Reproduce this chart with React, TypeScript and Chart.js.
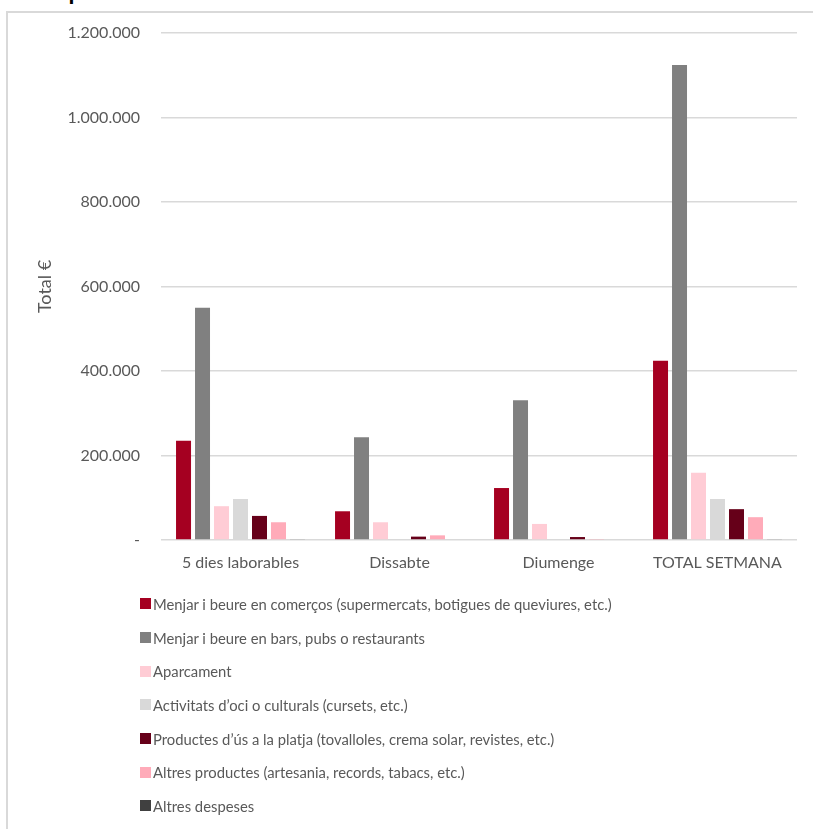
import React, { useEffect, useRef } from "react";
import { Chart, registerables } from "chart.js";

Chart.register(...registerables);

const categories = ["5 dies laborables", "Dissabte", "Diumenge", "TOTAL SETMANA"];

const seriesNames = [
  "Menjar i beure en comerços (supermercats, botigues de queviures, etc.)",
  "Menjar i beure en bars, pubs o restaurants",
  "Aparcament",
  "Activitats d’oci o culturals (cursets, etc.)",
  "Productes d’ús a la platja (tovalloles, crema solar, revistes, etc.)",
  "Altres productes (artesania, records, tabacs, etc.)",
  "Altres despeses",
];

const menjarComercos = [235000, 68000, 123000, 424000];
const menjarBars = [550000, 243000, 331000, 1124000];
const aparcament = [80000, 42000, 38000, 159000];
const activitats = [97000, 0, 0, 97000];
const productesPlatja = [57000, 8000, 7000, 73000];
const altresProductes = [42000, 11000, 1000, 54000];
const altresDespeses = [2000, 0, 0, 2000];

const seriesValues = [
  menjarComercos,
  menjarBars,
  aparcament,
  activitats,
  productesPlatja,
  altresProductes,
  altresDespeses,
];

const seriesColors = ["#A50021", "#808080", "#FFCCD5", "#D9D9D9", "#660019", "#FFABB9", "#404040"];

const yMin = 0;
const yMax = 1200000;
const yStep = 200000;
const yTitle = "Total €";
const chartTitle = "Despesa total setmanal";

const fmt = (v: number) =>
  v === 0 ? "-" : String(Math.round(v)).replace(/\B(?=(\d{3})+(?!\d))/g, ".");

const FONT = "Lato, 'Open Sans', sans-serif";
const TEXT = "#595959";

export default function App() {
  const ref = useRef<HTMLCanvasElement | null>(null);

  useEffect(() => {
    if (!ref.current) return;
    const chart = new Chart(ref.current, {
      type: "bar",
      data: {
        labels: categories,
        datasets: seriesNames.map((name, i) => ({
          label: name,
          data: seriesValues[i],
          backgroundColor: seriesColors[i],
          borderWidth: 0,
          categoryPercentage: 0.836,
          barPercentage: 0.79,
        })),
      },
      options: {
        animation: false,
        responsive: false,
        maintainAspectRatio: false,
        layout: { padding: { left: 28, right: 16, top: 33, bottom: 0 } },
        plugins: {
          legend: { display: false },
          tooltip: { enabled: false },
          title: { display: false },
        },
        scales: {
          x: {
            grid: { display: false, drawTicks: false },
            border: { display: false },
            ticks: {
              color: TEXT,
              padding: 13,
              font: { family: FONT, size: 16 },
              maxRotation: 0,
            },
            afterFit: (s: any) => {
              s.height = 50;
            },
          },
          y: {
            min: yMin,
            max: yMax,
            grid: { color: "#D9D9D9", lineWidth: 1.5, drawTicks: false },
            border: { display: false },
            ticks: {
              stepSize: yStep,
              color: TEXT,
              padding: 21,
              font: { family: FONT, size: 16 },
              callback: (v: any) => fmt(Number(v)),
            },
            title: {
              display: true,
              text: yTitle,
              color: TEXT,
              font: { family: FONT, size: 18 },
              padding: { top: 6, bottom: 0 },
            },
            afterFit: (s: any) => {
              s.width = 133;
            },
          },
        },
      },
    });
    return () => chart.destroy();
  }, []);

  return (
    <div
      style={{
        position: "fixed",
        left: 0,
        top: 0,
        width: 813,
        height: 829,
        overflow: "hidden",
        background: "#fff",
      }}
    >
      <div
        style={{
          position: "absolute",
          left: 0,
          top: 0,
          width: 813,
          height: 10,
          overflow: "hidden",
        }}
      >
        <div
          style={{
            position: "absolute",
            left: 27,
            top: -24,
            fontFamily: FONT,
            fontWeight: 700,
            fontSize: 24,
            lineHeight: "30px",
            color: "#000",
            whiteSpace: "nowrap",
          }}
        >
          {chartTitle}
        </div>
      </div>
      <div
        style={{
          position: "absolute",
          left: 6,
          top: 11,
          width: 830,
          height: 840,
          border: "2px solid #D9D9D9",
          boxSizing: "border-box",
        }}
      />
      <canvas
        ref={ref}
        width={813}
        height={590}
        style={{ position: "absolute", left: 0, top: 0, width: 813, height: 590 }}
      />
      <div
        style={{
          position: "absolute",
          left: 140,
          top: 587,
          fontFamily: FONT,
          fontSize: 14.8,
          color: TEXT,
        }}
      >
        {seriesNames.map((name, i) => (
          <div
            key={name}
            style={{ height: 33.7, display: "flex", alignItems: "center", whiteSpace: "nowrap" }}
          >
            <span
              style={{
                display: "inline-block",
                width: 11,
                height: 11,
                background: seriesColors[i],
                marginRight: 2,
              }}
            />
            <span>{name}</span>
          </div>
        ))}
      </div>
    </div>
  );
}
